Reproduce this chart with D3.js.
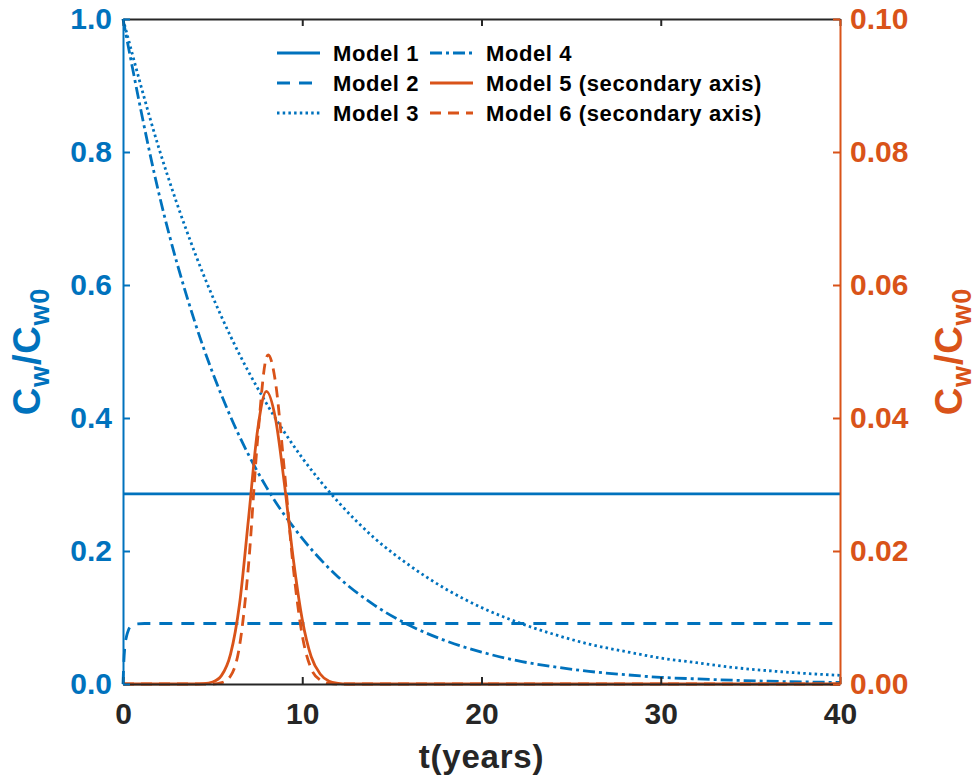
<!DOCTYPE html>
<html>
<head>
<meta charset="utf-8">
<script src="https://cdn.jsdelivr.net/npm/d3@7"></script>
<style>
  body { margin: 0; background: #fff; }
  svg text { font-family: "Liberation Sans", Arial, sans-serif; font-weight: bold; }
</style>
</head>
<body>
<div class="chart"></div>
<script>
// time samples (years) and concentration ratios for each model
const tModel1 = [0, 40];
const model1 = [0.286, 0.286];

const tModel2 = [0, 0.05, 0.1, 0.2, 0.3, 0.5, 0.8, 1.2, 40];
const model2 = [0, 0.035, 0.055, 0.072, 0.081, 0.088, 0.0905, 0.091, 0.091];

const tDecay = [0, 2, 4, 6, 8, 10, 12, 14, 16, 18, 20, 22, 24, 26, 28, 30, 32, 34, 36, 38, 40];
const model3 = [1, 0.806, 0.649, 0.523, 0.422, 0.340, 0.274, 0.220, 0.178, 0.143, 0.115,
                0.093, 0.075, 0.060, 0.049, 0.039, 0.032, 0.025, 0.020, 0.016, 0.013];
const model4 = [1, 0.738, 0.545, 0.402, 0.296, 0.219, 0.161, 0.119, 0.088, 0.065, 0.048,
                0.035, 0.026, 0.019, 0.014, 0.010, 0.0077, 0.0057, 0.0042, 0.0031, 0.0023];

// secondary axis series
const tModel5 = [0, 4, 4.5, 5, 5.5, 6, 6.5, 7, 7.5, 8, 8.5, 9, 9.5, 10, 10.5, 11, 11.5, 12, 12.5, 40];
const model5 = [0, 0, 0.00005, 0.0003, 0.0013, 0.0045, 0.0120, 0.0248, 0.0380, 0.0440, 0.0400,
                0.0302, 0.0188, 0.0097, 0.0041, 0.0015, 0.0004, 0.0001, 0, 0];

const tModel6 = [0, 5, 5.5, 6, 6.5, 7, 7.5, 8, 8.1, 8.5, 9, 9.5, 10, 10.5, 11, 11.5, 12, 40];
const model6 = [0, 0, 0.0002, 0.0012, 0.0057, 0.0178, 0.0365, 0.0491, 0.0495, 0.0455, 0.0322,
                0.0175, 0.0073, 0.0023, 0.0006, 0.0001, 0, 0];

const xTicks = [0, 10, 20, 30, 40];
const yLeftTicks = [0, 0.2, 0.4, 0.6, 0.8, 1.0];
const yRightTicks = [0, 0.02, 0.04, 0.06, 0.08, 0.10];

const blue = '#0072BD';
const orange = '#D95319';
const dark = '#262626';

const width = 977;
const height = 777;
const plot = {left: 123, right: 840, top: 19, bottom: 684};

const svg = d3.select('.chart').append('svg')
    .attr('width', width)
    .attr('height', height)
    .attr('viewBox', [0, 0, width, height]);

const x = d3.scaleLinear().domain([0, 40]).range([plot.left, plot.right]);
const yL = d3.scaleLinear().domain([0, 1]).range([plot.bottom, plot.top]);
const yR = d3.scaleLinear().domain([0, 0.1]).range([plot.bottom, plot.top]);

const series = [
    {name: 'Model 1', t: tModel1, v: model1, axis: 'L', color: blue, dash: null},
    {name: 'Model 2', t: tModel2, v: model2, axis: 'L', color: blue, dash: '13,9'},
    {name: 'Model 3', t: tDecay, v: model3, axis: 'L', color: blue, dash: '2.5,3.2'},
    {name: 'Model 4', t: tDecay, v: model4, axis: 'L', color: blue, dash: '12,4,3,4'},
    {name: 'Model 5 (secondary axis)', t: tModel5, v: model5, axis: 'R', color: orange, dash: null},
    {name: 'Model 6 (secondary axis)', t: tModel6, v: model6, axis: 'R', color: orange, dash: '11,7'}
];

series.forEach(s => {
    const yScale = s.axis === 'L' ? yL : yR;
    const line = d3.line()
        .x(d => x(d[0]))
        .y(d => yScale(d[1]))
        .curve(d3.curveMonotoneX);
    svg.append('path')
        .datum(d3.zip(s.t, s.v))
        .attr('d', line)
        .attr('fill', 'none')
        .attr('stroke', s.color)
        .attr('stroke-width', 2.8)
        .attr('stroke-dasharray', s.dash);
});

// axes, ticks pointing inward
const styleAxis = (g, color, size) => {
    g.select('.domain').attr('stroke', color).attr('stroke-width', 2);
    g.selectAll('.tick line').attr('stroke', color).attr('stroke-width', 2);
    g.selectAll('.tick text').attr('fill', color).style('font-size', size + 'px');
};

svg.append('g')
    .attr('transform', `translate(0,${plot.top})`)
    .call(d3.axisTop(x).tickValues(xTicks).tickSize(-7).tickSizeOuter(0).tickFormat(''))
    .call(g => styleAxis(g, dark, 30));

svg.append('g')
    .attr('transform', `translate(0,${plot.bottom})`)
    .call(d3.axisBottom(x).tickValues(xTicks).tickSize(-7).tickSizeOuter(0).tickPadding(19).tickFormat(d3.format('d')))
    .call(g => styleAxis(g, dark, 30));

svg.append('g')
    .attr('transform', `translate(${plot.left},0)`)
    .call(d3.axisLeft(yL).tickValues(yLeftTicks).tickSize(-7).tickSizeOuter(0).tickPadding(11).tickFormat(d3.format('.1f')))
    .call(g => styleAxis(g, blue, 30));

svg.append('g')
    .attr('transform', `translate(${plot.right},0)`)
    .call(d3.axisRight(yR).tickValues(yRightTicks).tickSize(-7).tickSizeOuter(0).tickPadding(10).tickFormat(d3.format('.2f')))
    .call(g => styleAxis(g, orange, 30));

// axis titles
svg.append('text')
    .attr('x', (plot.left + plot.right) / 2)
    .attr('y', 768)
    .attr('text-anchor', 'middle')
    .attr('fill', dark)
    .style('font-size', '33px')
    .style('letter-spacing', '0.8px')
    .text('t(years)');

const yTitle = (xPos, color) => {
    const t = svg.append('text')
        .attr('transform', `translate(${xPos},${(plot.top + plot.bottom) / 2}) rotate(-90)`)
        .attr('text-anchor', 'middle')
        .attr('fill', color)
        .style('font-size', '38px')
        .style('letter-spacing', '0.8px');
    t.append('tspan').text('C');
    t.append('tspan').attr('dy', 9).style('font-size', '27px').text('w');
    t.append('tspan').attr('dy', -9).text('/C');
    t.append('tspan').attr('dy', 9).style('font-size', '27px').text('w0');
};
yTitle(40, blue);
yTitle(962, orange);

// legend, two columns of three
const legend = svg.append('g');
series.forEach((s, i) => {
    const col = Math.floor(i / 3), row = i % 3;
    const lx = col === 0 ? 277 : 430;
    const ly = 53 + row * 30;
    legend.append('line')
        .attr('x1', lx).attr('x2', lx + 43)
        .attr('y1', ly).attr('y2', ly)
        .attr('stroke', s.color)
        .attr('stroke-width', 2.8)
        .attr('stroke-dasharray', s.dash);
    legend.append('text')
        .attr('x', lx + 56)
        .attr('y', ly)
        .attr('dy', '0.36em')
        .attr('fill', '#000')
        .style('font-size', '22px')
        .style('letter-spacing', '0.6px')
        .text(s.name);
});
</script>
</body>
</html>
